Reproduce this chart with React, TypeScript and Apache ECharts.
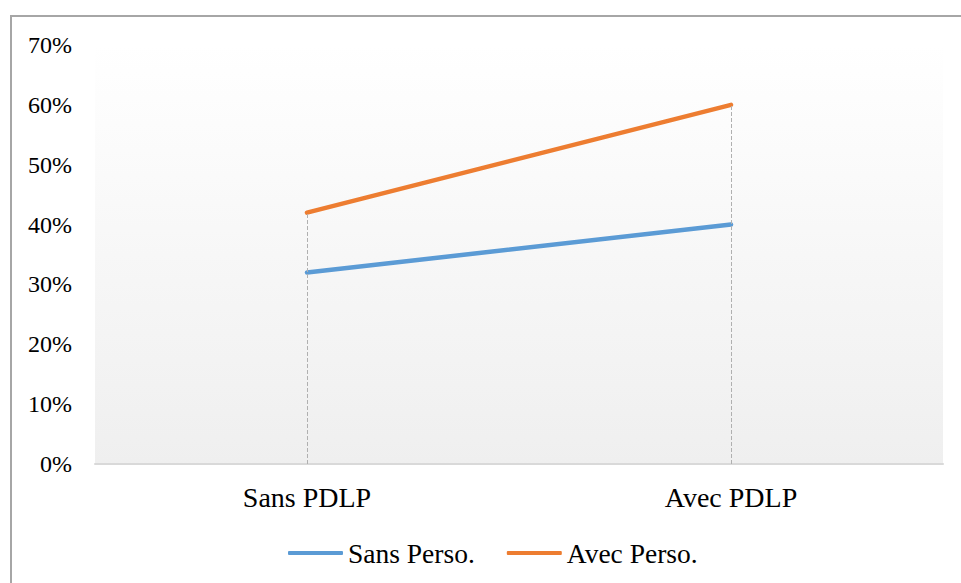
import React, { useEffect, useRef } from "react";
import * as echarts from "echarts";

const categories = ["Sans PDLP", "Avec PDLP"];
const sansPerso = [32, 40];
const avecPerso = [42, 60];
const seriesNames = ["Sans Perso.", "Avec Perso."];
const yMax = 70;
const yInterval = 10;

export default function App() {
  const ref = useRef<HTMLDivElement>(null);
  useEffect(() => {
    if (!ref.current) return;
    const chart = echarts.init(ref.current, null, { renderer: "svg" });
    const font = "Liberation Serif";
    const dropData = categories.map((c, i) => [
      { coord: [c, 0] },
      { coord: [c, Math.max(sansPerso[i], avecPerso[i])] },
    ]);
    chart.setOption({
      animation: false,
      backgroundColor: "#ffffff",
      graphic: [
        {
          type: "rect",
          shape: { x: 11, y: 16, width: 1000, height: 1000 },
          style: { fill: "none", stroke: "#a6a6a6", lineWidth: 2 },
          z: -1,
        },
      ],
      grid: {
        left: 95,
        right: 18,
        top: 45,
        bottom: 119,
        show: true,
        borderWidth: 0,
        backgroundColor: new echarts.graphic.LinearGradient(0, 0, 0, 1, [
          { offset: 0, color: "#ffffff" },
          { offset: 1, color: "#efefef" },
        ]),
      },
      legend: {
        data: seriesNames,
        top: 539,
        left: 288,
        padding: 0,
        itemWidth: 55,
        itemHeight: 4,
        itemGap: 32,
        icon: "roundRect",
        textStyle: { fontFamily: font, fontSize: 27.5, color: "#000" },
      },
      xAxis: {
        type: "category",
        data: categories,
        boundaryGap: true,
        axisLine: { show: true, lineStyle: { color: "#d9d9d9", width: 2 } },
        axisTick: { show: false },
        axisLabel: { fontFamily: font, fontSize: 28, color: "#000", margin: 19 },
        splitLine: { show: false },
      },
      yAxis: {
        type: "value",
        min: 0,
        max: yMax,
        interval: yInterval,
        axisLine: { show: false },
        axisTick: { show: false },
        splitLine: { show: false },
        axisLabel: {
          formatter: "{value}%",
          fontFamily: font,
          fontSize: 24,
          color: "#000",
          margin: 23,
        },
      },
      series: [
        {
          name: "drop",
          type: "line",
          data: [],
          silent: true,
          z: 1,
          markLine: {
            silent: true,
            symbol: "none",
            label: { show: false },
            lineStyle: { color: "#b0b0b0", width: 1, type: [4, 2] },
            data: dropData,
          },
        },
        {
          name: seriesNames[0],
          type: "line",
          data: sansPerso,
          symbol: "none",
          z: 3,
          lineStyle: { color: "#5b9bd5", width: 4.5, cap: "round" },
          itemStyle: { color: "#5b9bd5" },
        },
        {
          name: seriesNames[1],
          type: "line",
          data: avecPerso,
          symbol: "none",
          z: 3,
          lineStyle: { color: "#ed7d31", width: 4.5, cap: "round" },
          itemStyle: { color: "#ed7d31" },
        },
      ],
    });
    return () => chart.dispose();
  }, []);
  return (
    <div
      ref={ref}
      style={{ position: "fixed", left: 0, top: 0, width: 961, height: 583 }}
    />
  );
}
